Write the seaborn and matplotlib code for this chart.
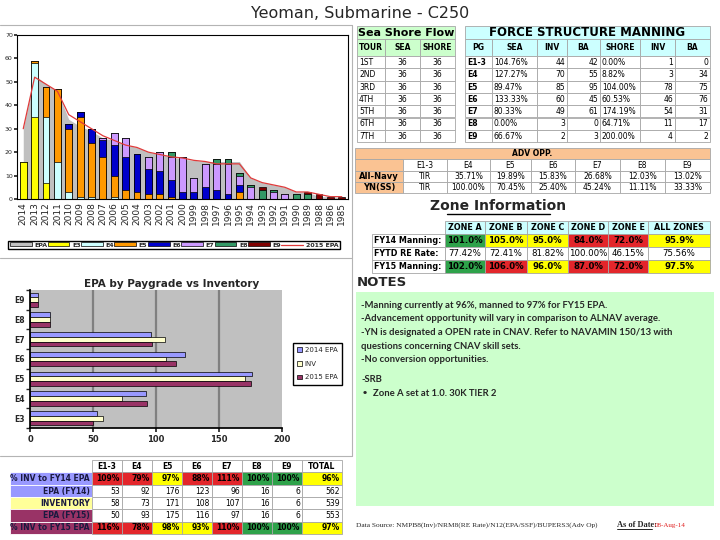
import numpy as np
import pandas as pd
import seaborn as sns
import matplotlib.pyplot as plt
from matplotlib.patches import Rectangle, Patch
from matplotlib.lines import Line2D

# --- sea shore flow chart (stacked by paygrade per year) ---
years = ['2014', '2013', '2012', '2011', '2010', '2009', '2008', '2007', '2006', '2005',
         '2004', '2003', '2002', '2001', '2000', '1999', '1998', '1997', '1996', '1995',
         '1994', '1993', '1992', '1991', '1990', '1989', '1988', '1986', '1985']
e3 = [16, 35, 7, 0, 0, 0, 0, 0, 0, 0, 0, 0, 0, 0, 0, 0, 0, 0, 0, 0, 0, 0, 0, 0, 0, 0, 0, 0, 0]
e4 = [0, 23, 28, 16, 3, 1, 1, 0, 1, 0, 0, 0, 0, 0, 0, 0, 0, 0, 0, 0, 0, 0, 0, 0, 0, 0, 0, 0, 0]
e5 = [0, 1, 13, 31, 27, 34, 23, 18, 9, 4, 3, 2, 2, 1, 0, 0, 0, 0, 0, 3, 0, 0, 0, 0, 0, 0, 0, 0, 0]
e6 = [0, 0, 0, 0, 2, 2, 6, 7, 13, 14, 16, 11, 10, 7, 3, 3, 5, 4, 2, 3, 0, 0, 0, 0, 0, 0, 0, 0, 0]
e7 = [0, 0, 0, 0, 0, 0, 0, 1, 5, 8, 0, 5, 8, 10, 15, 6, 10, 11, 13, 4, 5, 0, 3, 2, 0, 0, 0, 0, 0]
e8 = [0, 0, 0, 0, 0, 0, 0, 0, 0, 0, 0, 0, 0, 2, 0, 0, 0, 2, 2, 1, 1, 4, 1, 0, 2, 2, 0, 0, 0]
e9 = [0, 0, 0, 0, 0, 0, 0, 0, 0, 0, 0, 0, 0, 0, 0, 0, 0, 0, 0, 0, 0, 1, 0, 0, 0, 1, 2, 1, 1]
epa_area = [30, 53, 49, 46, 34, 31, 29, 26, 25, 23, 22, 20, 19, 18, 17, 16.5, 16, 16, 16, 16,
            9, 7, 6, 5, 3, 3, 1, 1, 0.5]
epa_2015 = [30, 52, 49, 46, 36, 33, 30, 27, 25, 23, 22, 20, 19, 18, 17.5, 16.5, 16, 15, 15, 15,
            9, 7, 6, 5, 3, 3, 2, 1, 1]

# --- EPA by paygrade vs inventory ---
grades = ['E9', 'E8', 'E7', 'E6', 'E5', 'E4', 'E3']
bar_epa14 = [6, 16, 96, 123, 176, 92, 53]
bar_inv = [6, 16, 107, 108, 171, 73, 58]
bar_epa15 = [6, 16, 97, 116, 175, 93, 50]

# --- bottom table ---
tbl_cols = ['E1-3', 'E4', 'E5', 'E6', 'E7', 'E8', 'E9', 'TOTAL']
pct_fy14 = [109, 79, 97, 88, 111, 100, 100, 96]
epa_fy14 = [53, 92, 176, 123, 96, 16, 6, 562]
inventory = [58, 73, 171, 108, 107, 16, 6, 539]
epa_fy15 = [50, 93, 175, 116, 97, 16, 6, 553]
pct_fy15 = [116, 78, 98, 93, 110, 100, 100, 97]

# --- sea shore flow table ---
tours = ['1ST', '2ND', '3RD', '4TH', '5TH', '6TH', '7TH']
tour_sea = [36, 36, 36, 36, 36, 36, 36]
tour_shore = [36, 36, 36, 36, 36, 36, 36]

# --- force structure manning ---
fsm_pg = ['E1-3', 'E4', 'E5', 'E6', 'E7', 'E8', 'E9']
fsm_sea = ['104.76%', '127.27%', '89.47%', '133.33%', '80.33%', '0.00%', '66.67%']
fsm_sea_inv = [44, 70, 85, 60, 49, 3, 2]
fsm_sea_ba = [42, 55, 95, 45, 61, 0, 3]
fsm_shore = ['0.00%', '8.82%', '104.00%', '60.53%', '174.19%', '64.71%', '200.00%']
fsm_shore_inv = [1, 3, 78, 46, 54, 11, 4]
fsm_shore_ba = [0, 34, 75, 76, 31, 17, 2]

# --- advancement opportunity ---
adv_cols = ['E1-3', 'E4', 'E5', 'E6', 'E7', 'E8', 'E9']
adv_navy = ['TIR', '35.71%', '19.89%', '15.83%', '26.68%', '12.03%', '13.02%']
adv_yn = ['TIR', '100.00%', '70.45%', '25.40%', '45.24%', '11.11%', '33.33%']

# --- zone information ---
zones = ['ZONE A', 'ZONE B', 'ZONE C', 'ZONE D', 'ZONE E', 'ALL ZONES']
zone_fy14 = ['101.0%', '105.0%', '95.0%', '84.0%', '72.0%', '95.9%']
zone_re = ['77.42%', '72.41%', '81.82%', '100.00%', '46.15%', '75.56%']
zone_fy15 = ['102.0%', '106.0%', '96.0%', '87.0%', '72.0%', '97.5%']
zone_fy14_c = ['g', 'y', 'y', 'r', 'r', 'y']
zone_fy15_c = ['g', 'r', 'y', 'r', 'r', 'y']

notes = ['-Manning currently at 96%, manned to 97% for FY15 EPA.',
         '-Advancement opportunity will vary in comparison to ALNAV average.',
         '-YN is designated a OPEN rate in CNAV. Refer to NAVAMIN 150/13 with',
         'questions concerning CNAV skill sets.',
         '-No conversion opportunities.']

sns.set_theme(style="white")
plt.rcParams['font.family'] = ['DejaVu Sans']

GREEN, RED, YELLOW = '#2EA24A', '#E3262B', '#FFFF00'
zc = {'g': GREEN, 'r': RED, 'y': YELLOW}

fig = plt.figure(figsize=(7.2, 5.4), dpi=100)
bg = fig.add_axes([0, 0, 1, 1])
bg.set_xlim(0, 720)
bg.set_ylim(540, 0)
bg.axis('off')


def px_axes(x0, y0, x1, y1):
    return fig.add_axes([x0 / 720, 1 - y1 / 540, (x1 - x0) / 720, (y1 - y0) / 540])


def cell(x0, x1, y0, y1, text='', fc='white', ha='center', bold=False, fs=5.5,
         color='black', ec='#A6A6A6', family=None):
    bg.add_patch(Rectangle((x0, y0), x1 - x0, y1 - y0, facecolor=fc, edgecolor=ec, lw=0.6))
    tx = {'center': (x0 + x1) / 2, 'left': x0 + 2, 'right': x1 - 2}[ha]
    bg.text(tx, (y0 + y1) / 2 + 0.3, text, ha=ha, va='center', fontsize=fs,
            fontweight='bold' if bold else 'normal', color=color,
            family=family or ['DejaVu Sans'])


def pct_color(v):
    if v == 100:
        return GREEN
    if 90 <= v < 100:
        return YELLOW
    return RED


bg.text(360, 14, 'Yeoman, Submarine - C250', fontsize=11.5, ha='center', va='center')

# panel borders
for xs, ys in [([0, 352], [25, 25]), ([352, 352], [25, 456]), ([0, 352], [258, 258]),
               ([0, 352], [456, 456])]:
    bg.plot(xs, ys, color='#B4B4B4', lw=0.8)

# ---------------- stacked flow chart ----------------
ax1 = px_axes(17, 35, 348, 199)
flow = pd.DataFrame({'year': years, 'E3': e3, 'E4': e4, 'E5': e5, 'E6': e6,
                     'E7': e7, 'E8': e8, 'E9': e9})
layers = ['E3', 'E4', 'E5', 'E6', 'E7', 'E8', 'E9']
layer_colors = {'E3': '#FFFF00', 'E4': '#CCFFFF', 'E5': '#FF9900', 'E6': '#0000CC',
                'E7': '#CC99FF', 'E8': '#339966', 'E9': '#800000'}
cum = flow[layers].cumsum(axis=1)
pos = np.arange(len(years))
ax1.fill_between(pos, epa_area, color='#C0C0C0', lw=0, zorder=0.5)
for lay in reversed(layers):
    sns.barplot(x=flow['year'], y=cum[lay], order=years, color=layer_colors[lay],
                saturation=1, width=0.6, edgecolor='black', linewidth=0.5, ax=ax1)
ax1.plot(pos, epa_2015, color='#E03A3A', lw=0.9, zorder=5)
ax1.set_xlim(-0.55, len(years) - 0.45)
ax1.set_ylim(0, 70)
ax1.set_yticks(range(0, 71, 10))
ax1.set_xlabel('')
ax1.set_ylabel('')
ax1.tick_params(axis='y', labelsize=4.5, length=2, pad=1, left=True)
ax1.tick_params(axis='x', labelsize=6.5, rotation=90, length=0, pad=2)
for s in ax1.spines.values():
    s.set_color('black')
    s.set_linewidth(0.8)

h1 = [Patch(fc='#C0C0C0', ec='black', lw=0.5)] + \
     [Patch(fc=layer_colors[l], ec='black', lw=0.5) for l in layers] + \
     [Line2D([0], [0], color='#E03A3A', lw=0.9)]
fig.legend(h1, ['EPA'] + layers + ['2015 EPA'], loc='center',
           bbox_to_anchor=(5 / 720, 1 - 251 / 540, 338 / 720, 12 / 540), mode='expand',
           ncol=9, prop={'size': 4.5, 'weight': 'bold'}, frameon=True, fancybox=False,
           edgecolor='black', handlelength=3.5, handleheight=0.6, borderpad=0.25,
           columnspacing=0.6, handletextpad=0.4, framealpha=1)

# ---------------- EPA vs inventory ----------------
ax2 = px_axes(30, 290, 282, 428)
series = ['2014 EPA', 'INV', '2015 EPA']
inv_df = pd.DataFrame({'grade': grades * 3,
                       'count': bar_epa14 + bar_inv + bar_epa15,
                       'series': [s for s in series for _ in grades]})
pal = {'2014 EPA': '#9999FF', 'INV': '#FFFFCC', '2015 EPA': '#993366'}
sns.barplot(data=inv_df, y='grade', x='count', hue='series', order=grades,
            hue_order=series, palette=pal, saturation=1, width=0.72, edgecolor='black',
            linewidth=0.5, orient='h', legend=False, ax=ax2)
ax2.set_facecolor('#C0C0C0')
ax2.set_xlim(0, 200)
ax2.set_xticks([0, 50, 100, 150, 200])
for v in [50, 100, 150]:
    ax2.axvline(v, color='#808080', lw=1.6, zorder=0)
ax2.set_xlabel('')
ax2.set_ylabel('')
ax2.spines['top'].set_visible(False)
ax2.spines['right'].set_visible(False)
ax2.spines['left'].set_color('black')
ax2.spines['bottom'].set_color('black')
ax2.tick_params(axis='x', labelsize=6, length=3, bottom=True, pad=2)
ax2.tick_params(axis='y', labelsize=5.5, length=0, pad=4)
for lab in ax2.get_xticklabels() + ax2.get_yticklabels():
    lab.set_fontweight('bold')
ax2.set_yticks(np.arange(-0.5, 7, 1), minor=True)
ax2.tick_params(axis='y', which='minor', left=True, length=3)

h2 = [Patch(fc=pal[s], ec='black', lw=0.5) for s in series]
fig.legend(h2, series, loc='upper left', bbox_to_anchor=(293 / 720, 1 - 343 / 540),
           prop={'size': 5}, frameon=True, fancybox=False, edgecolor='black',
           handlelength=0.7, handleheight=0.7, labelspacing=1.1, borderpad=0.6,
           handletextpad=0.4, framealpha=1, borderaxespad=0)
bg.text(172, 284, 'EPA by Paygrade vs Inventory', fontsize=7.5, fontweight='bold',
        ha='center', va='center')

# ---------------- bottom table ----------------
tx = [92, 122, 152, 182, 212, 242, 272, 302, 342]
ty0, th = 460, 12.3
for j, c in enumerate(tbl_cols):
    cell(tx[j], tx[j + 1], ty0, ty0 + th, c, bold=True, fs=5.5)
row_labels = ['% INV to FY14 EPA', 'EPA (FY14)', 'INVENTORY', 'EPA (FY15)', '% INV to FY15 EPA']
row_fc = ['#9999FF', '#9999FF', '#FFFF99', '#993366', '#993366']
rows = [pct_fy14, epa_fy14, inventory, epa_fy15, pct_fy15]
for i, (lab, vals) in enumerate(zip(row_labels, rows)):
    y0 = ty0 + th * (i + 1)
    cell(10, 92, y0, y0 + th, lab, fc=row_fc[i], ha='right', bold=True, fs=5.5, ec='white',
         color='#1A1A40')
    for j, v in enumerate(vals):
        if i in (0, 4):
            cell(tx[j], tx[j + 1], y0, y0 + th, f'{v}%', fc=pct_color(v), ha='right',
                 bold=True, fs=5.5)
        else:
            cell(tx[j], tx[j + 1], y0, y0 + th, str(v), ha='right', fs=5.5)

# ---------------- sea shore flow table ----------------
sx = [357, 385, 420, 455]
cell(357, 455, 26, 39, 'Sea Shore Flow', fc='#CCFFCC', bold=True, fs=8)
for j, c in enumerate(['TOUR', 'SEA', 'SHORE']):
    cell(sx[j], sx[j + 1], 39, 56, c, fc='#CCFFCC', bold=True, fs=5.5)
for i in range(len(tours)):
    y0 = 56 + 12.3 * i
    cell(sx[0], sx[1], y0, y0 + 12.3, tours[i], ha='left', fs=5.5)
    cell(sx[1], sx[2], y0, y0 + 12.3, str(tour_sea[i]), fs=5.5)
    cell(sx[2], sx[3], y0, y0 + 12.3, str(tour_shore[i]), fs=5.5)

# ---------------- force structure manning ----------------
fx = [465, 492, 537, 567, 600, 640, 675, 710]
cell(465, 710, 26, 39, 'FORCE STRUCTURE MANNING', fc='#CCFFFF', bold=True, fs=8.5)
for j, c in enumerate(['PG', 'SEA', 'INV', 'BA', 'SHORE', 'INV', 'BA']):
    cell(fx[j], fx[j + 1], 39, 56, c, fc='#CCFFFF', bold=True, fs=5.5)
for i in range(len(fsm_pg)):
    y0, y1 = 56 + 12.3 * i, 56 + 12.3 * (i + 1)
    cell(fx[0], fx[1], y0, y1, fsm_pg[i], ha='left', bold=True, fs=5.5)
    cell(fx[1], fx[2], y0, y1, fsm_sea[i], ha='left', fs=5.5)
    cell(fx[2], fx[3], y0, y1, str(fsm_sea_inv[i]), ha='right', fs=5.5)
    cell(fx[3], fx[4], y0, y1, str(fsm_sea_ba[i]), ha='right', fs=5.5)
    cell(fx[4], fx[5], y0, y1, fsm_shore[i], ha='left', fs=5.5)
    cell(fx[5], fx[6], y0, y1, str(fsm_shore_inv[i]), ha='right', fs=5.5)
    cell(fx[6], fx[7], y0, y1, str(fsm_shore_ba[i]), ha='right', fs=5.5)

# ---------------- adv opp ----------------
ORANGE = '#FAC393'
ax_ = [355, 403, 447, 490, 531, 575, 620, 665, 710]
cell(355, 710, 148, 159, 'ADV OPP.', fc=ORANGE, bold=True, fs=5.5)
cell(ax_[0], ax_[1], 159, 171, '', fc=ORANGE)
for j, c in enumerate(adv_cols):
    cell(ax_[j + 1], ax_[j + 2], 159, 171, c, fs=5.5)
for i, (lab, vals) in enumerate([('All-Navy', adv_navy), ('YN(SS)', adv_yn)]):
    y0 = 171 + 11 * i
    cell(ax_[0], ax_[1], y0, y0 + 11, lab, fc=ORANGE, bold=True, fs=6)
    for j, v in enumerate(vals):
        cell(ax_[j + 1], ax_[j + 2], y0, y0 + 11, v, fs=5.5)

# ---------------- zone information ----------------
bg.text(498, 206, 'Zone Information', fontsize=10, fontweight='bold', ha='center', va='center')
bg.plot([447, 550], [213.5, 213.5], color='black', lw=1)
zx = [372, 445, 485, 527, 568, 608, 648, 710]
for j, z in enumerate(zones):
    cell(zx[j + 1], zx[j + 2], 221, 234, z, fc='#CCFFFF', bold=True, fs=5.8)
zrows = [('FY14 Manning:', zone_fy14, zone_fy14_c), ('FYTD RE Rate:', zone_re, None),
         ('FY15 Manning:', zone_fy15, zone_fy15_c)]
for i, (lab, vals, cols) in enumerate(zrows):
    y0 = 234 + 13 * i
    cell(zx[0], zx[1], y0, y0 + 13, lab, ha='left', bold=True, fs=5.8)
    for j, v in enumerate(vals):
        fc = zc[cols[j]] if cols else 'white'
        cell(zx[j + 1], zx[j + 2], y0, y0 + 13, v, fc=fc, bold=cols is not None, fs=6.2)

# ---------------- notes ----------------
bg.text(357, 283, 'NOTES', fontsize=9.5, fontweight='bold', ha='left', va='center')
bg.add_patch(Rectangle((356, 292), 358, 214, facecolor='#CCFFCC', edgecolor='none'))
for i, line in enumerate(notes):
    bg.text(361, 305 + 13.7 * i, line, fontsize=6.8, fontweight='bold', family=['Lato'],
            ha='left', va='center')
bg.text(361, 380, '-SRB', fontsize=6.8, fontweight='bold', family=['Lato'], ha='left', va='center')
bg.text(362, 393, '\u2022', fontsize=6.8, fontweight='bold', family=['DejaVu Sans'],
        ha='left', va='center')
bg.text(373, 393, 'Zone A set at 1.0. 30K TIER 2', fontsize=6.8, fontweight='bold',
        family=['Lato'], ha='left', va='center')

bg.text(356, 525, 'Data Source: NMPB8(Inv)/NRM8(RE Rate)/N12(EPA/SSF)/BUPERS3(Adv Op)',
        fontsize=5.3, family=['Liberation Serif'], ha='left', va='center')
bg.text(617, 525, 'As of Date:', fontsize=6, fontweight='bold', family=['Liberation Serif'],
        ha='left', va='center')
bg.plot([617, 652], [529, 529], color='black', lw=0.6)
bg.text(655, 525, '08-Aug-14', fontsize=5, color='#E02020', family=['Liberation Serif'],
        ha='left', va='center')

fig.savefig('out.png', dpi=100)
